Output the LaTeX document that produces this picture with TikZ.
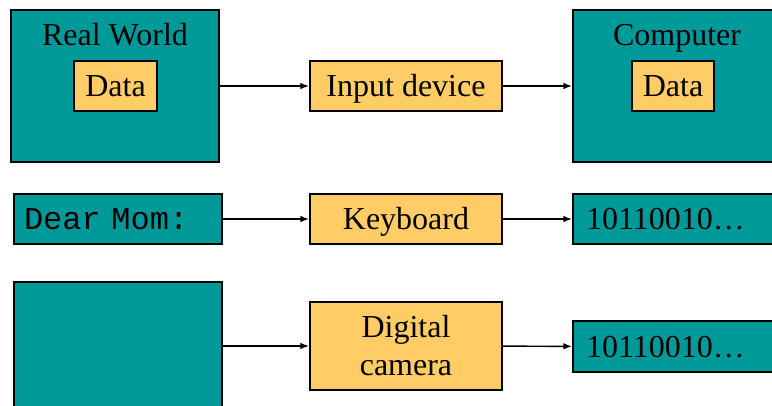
\documentclass[tikz,border=0pt]{standalone}
\usepackage{fontspec}
\setmainfont{Liberation Serif}
\setmonofont{Liberation Mono}
\usetikzlibrary{arrows.meta}
\definecolor{boxteal}{HTML}{009999}
\definecolor{boxgold}{HTML}{FFCC66}
\tikzset{
  world/.style = {shape=rectangle, draw, line width=1.5pt,
                  fill=boxteal, inner sep=0pt,
                  minimum width=156pt, minimum height=114pt},
  strip/.style = {world, minimum height=37.5pt, align=left},
  unit/.style  = {shape=rectangle, draw, line width=1.5pt,
                  fill=boxgold, align=center, inner sep=0pt,
                  minimum width=144pt, minimum height=37.5pt},
  data/.style  = {unit, minimum width=62pt},
  line/.style  = {text height=21.4pt, text depth=5.2pt}
}
\begin{document}
\begin{tikzpicture}
  [
  x = 0.75pt, y = -0.75pt,
  every node/.style = {font = \fontsize{24}{28.5}\selectfont},
  link/.style = {-{Latex[length=6.5pt,width=5pt]}, line width=1.1pt}
  ]
  \useasboundingbox (0,0) rectangle (772,405);
  \clip (0,0) rectangle (772,405);

  % top row
  \node[world] (real) at (115,86) {};
  \node[line] (reallabel) at (115,35) {Real World};
  \node[data, line] (realdata) at (115.5,86) {Data};
  \node[unit, line] (input) at (406,86) {Input device};
  \node[world] (computer) at (677,86) {};
  \node[line] (complabel) at (677,35) {Computer};
  \node[data, line] (compdata) at (673,86) {Data};

  % keyboard row
  \node[strip, line, inner xsep=7.5pt, text width=141pt] (letter) at (118,219) {\ttfamily Dear Mom:};
  \node[unit, line] (keyboard) at (406,219) {Keyboard};
  \node[strip, line, inner xsep=9.75pt, text width=136.5pt] (bits) at (677,219) {10110010…};

  % camera row
  \node[world] (photo) at (118,358) {};
  \node[unit, minimum height=66pt] (camera) at (406,346) {Digital\\camera};
  \node[strip, line, inner xsep=9.75pt, text width=136.5pt, minimum height=38pt] (pixels) at (677,346.5) {10110010…};

  \draw[link] (real) -- (input);
  \draw[link] (input) -- (computer);
  \draw[link] (letter) -- (keyboard);
  \draw[link] (keyboard) -- (bits);
  \draw[link] (camera.west -| photo.east) -- (camera);
  \draw[link] (camera) -- (pixels);
\end{tikzpicture}
\end{document}
